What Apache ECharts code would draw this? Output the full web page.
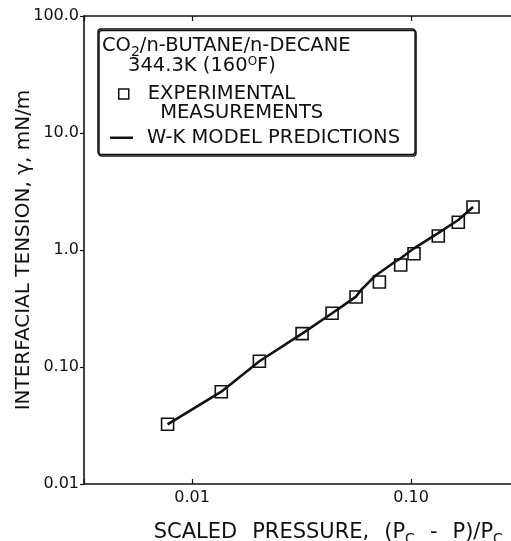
<!DOCTYPE html>
<html><head><meta charset="utf-8">
<script src="https://cdn.jsdelivr.net/npm/echarts@6/dist/echarts.min.js"></script>
<style>html,body{margin:0;padding:0;background:#fff}#c{width:511px;height:541px}</style>
</head><body><div id="c"></div>
<script>
const expX = [0.00773, 0.0136, 0.0203, 0.0318, 0.0436, 0.0561, 0.0717, 0.0897, 0.1032, 0.1332, 0.1644, 0.1919];
const expY = [0.0324, 0.0615, 0.112, 0.193, 0.288, 0.397, 0.533, 0.745, 0.930, 1.317, 1.725, 2.331];
const modelX = [0.00773, 0.0136, 0.0203, 0.0318, 0.0436, 0.0561, 0.0595, 0.0685, 0.0845, 0.0897, 0.1032, 0.1324, 0.1644, 0.1919];
const modelY = [0.0324, 0.0615, 0.112, 0.193, 0.288, 0.400, 0.461, 0.600, 0.794, 0.849, 1.034, 1.389, 1.805, 2.331];
const xTickValues = [0.01, 0.1];
const xTickLabels = ['0.01', '0.10'];
const yTickValues = [0.01, 0.1, 1, 10, 100];
const yTickLabels = ['0.01', '0.10', '1.0', '10.0', '100.0'];
const expName = 'EXPERIMENTAL MEASUREMENTS';
const modelName = 'W-K MODEL PREDICTIONS';

const FONT = "'DejaVu Sans', 'Liberation Sans', Arial, sans-serif";
const INK = '#111';

function labelFor(vals, labels) {
  return function (v) {
    for (let i = 0; i < vals.length; i++) {
      if (Math.abs(Math.log10(v) - Math.log10(vals[i])) < 1e-6) return labels[i];
    }
    return '';
  };
}

const chart = echarts.init(document.getElementById('c'), null, {renderer: 'canvas'});
const xBase = {
  type: 'log', logBase: 10, min: 0.00321, max: 0.3,
  splitLine: {show: false}, minorTick: {show: false}
};
const txt = {fontFamily: FONT, color: INK, fontWeight: 'normal'};
chart.setOption({
  animation: false,
  backgroundColor: '#fff',
  grid: {left: 84, top: 16, width: 431.5, height: 468, containLabel: false, outerBoundsMode: 'none'},
  title: {
    left: 102, top: 36.5, padding: 0,
    text: '{a|CO}{sub|2}{a|/n-BUTANE/n-DECANE}\n{ind| }{a|344.3K (160}{sup|O}{a|F)}',
    textStyle: {
      fontWeight: 'normal',
      rich: {
        a: Object.assign({fontSize: 19.5, lineHeight: 19.5}, txt),
        sub: Object.assign({fontSize: 14, lineHeight: 7, padding: [13, 0, 0, 0]}, txt),
        sup: Object.assign({fontSize: 12, lineHeight: 8, padding: [0, 0, 8, 0]}, txt),
        ind: {width: 26, fontSize: 19.5, lineHeight: 19.5}
      }
    }
  },
  legend: [
    {
      orient: 'vertical', left: 118, top: 65, padding: 0,
      itemWidth: 10, itemHeight: 10,
      data: [{name: expName, icon: 'rect'}],
      formatter: function () { return '\nEXPERIMENTAL\n  MEASUREMENTS'; },
      itemStyle: {color: '#fff', borderColor: INK, borderWidth: 1.5},
      textStyle: Object.assign({fontSize: 19.5, lineHeight: 19, padding: [0, 0, 0, 14]}, txt)
    },
    {
      orient: 'vertical', left: 98, top: 29,
      padding: [98.75, 15, 6.75, 12],
      itemWidth: 23, itemHeight: 2.5,
      borderColor: INK, borderWidth: 1.5, borderRadius: 3,
      shadowColor: 'rgba(0,0,0,0.9)', shadowOffsetX: 1, shadowOffsetY: 1.5, shadowBlur: 0,
      data: [{name: modelName, icon: 'rect'}],
      itemStyle: {color: INK, borderWidth: 0},
      textStyle: Object.assign({fontSize: 19.5, lineHeight: 19.5, padding: [0, 0, 0, 9]}, txt)
    }
  ],
  xAxis: [
    Object.assign({}, xBase, {
      position: 'bottom',
      axisLine: {show: true, lineStyle: {color: INK, width: 1.6}},
      axisTick: {show: true, inside: true, length: 5, lineStyle: {color: INK, width: 1.2}},
      axisLabel: Object.assign({show: true, margin: 6, fontSize: 16, formatter: labelFor(xTickValues, xTickLabels)}, txt),
      name: '{t|SCALED}{g| }{t|PRESSURE,}{g| }{t|(P}{s|C}{g| }{t|-}{g| }{t|P)/P}{s|C}',
      nameLocation: 'middle', nameGap: 39, nameMoveOverlap: false,
      nameTextStyle: Object.assign({fontSize: 21, padding: [0, 0, 0, 57],
        rich: {
          t: Object.assign({fontSize: 21, lineHeight: 20}, txt),
          g: Object.assign({fontSize: 21, lineHeight: 20, width: 15}, txt),
          s: Object.assign({fontSize: 14, lineHeight: 7, padding: [12, 0, 0, 0]}, txt)
        }}, txt)
    }),
    Object.assign({}, xBase, {
      position: 'top',
      axisLine: {show: true, lineStyle: {color: INK, width: 1.6}},
      axisTick: {show: true, inside: true, length: 5, lineStyle: {color: INK, width: 1.2}},
      axisLabel: {show: false}
    })
  ],
  yAxis: {
    type: 'log', logBase: 10, min: 0.01, max: 100,
    splitLine: {show: false}, minorTick: {show: false},
    axisLine: {show: true, lineStyle: {color: INK, width: 1.6}},
    axisTick: {show: true, inside: false, length: 4, lineStyle: {color: INK, width: 1.2}},
    axisLabel: Object.assign({show: true, margin: 5, fontSize: 16, formatter: labelFor(yTickValues, yTickLabels)}, txt),
    name: 'INTERFACIAL TENSION, γ, mN/m',
    nameLocation: 'middle', nameGap: 50, nameMoveOverlap: false,
    nameTextStyle: Object.assign({fontSize: 20}, txt)
  },
  series: [
    {
      name: modelName, type: 'line', xAxisIndex: 0,
      data: modelX.map((x, i) => [x, modelY[i]]),
      symbol: 'none', smooth: false,
      lineStyle: {color: INK, width: 2.6},
      itemStyle: {color: INK}
    },
    {
      name: expName, type: 'scatter', xAxisIndex: 0,
      data: expX.map((x, i) => [x, expY[i]]),
      symbol: 'rect', symbolSize: 12,
      itemStyle: {color: '#fff', borderColor: INK, borderWidth: 1.6, opacity: 1}
    }
  ]
});
</script></body></html>
